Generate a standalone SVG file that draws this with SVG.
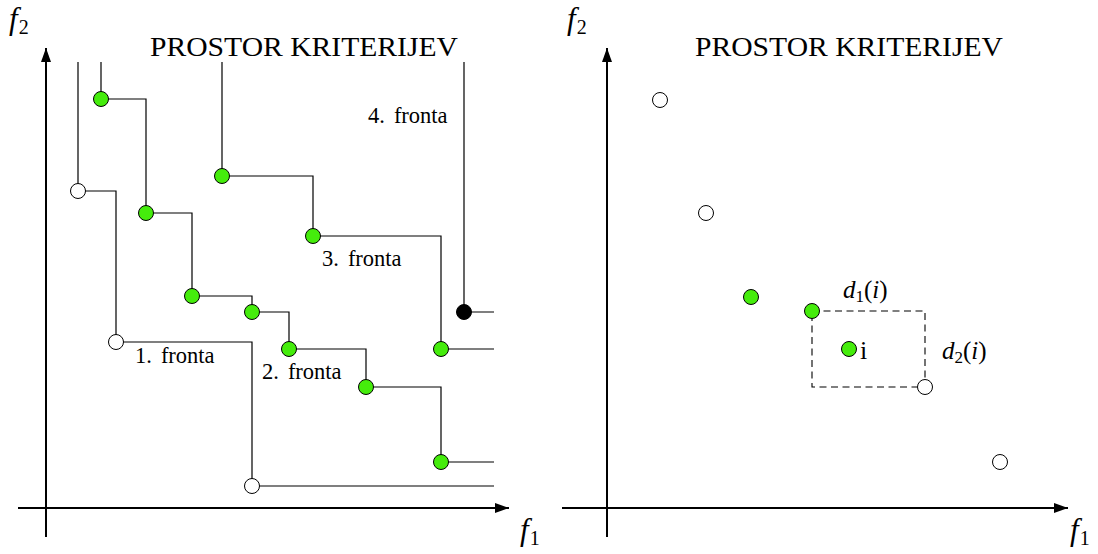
<svg xmlns="http://www.w3.org/2000/svg" width="1098" height="554" viewBox="0 0 1098 554">
<style>
text{font-family:"Liberation Serif","Times New Roman",serif;fill:#000}
.title{font-size:27px}
.lab{font-family:"Liberation Serif","DejaVu Serif",serif;font-size:22.5px}
.mi{font-style:italic;font-size:31px}
.sub{font-size:20px;font-style:normal}
.dm{font-style:italic;font-size:25px}
.ds{font-size:17px;font-style:normal}
.up{font-style:normal}
.front{fill:none;stroke:#000;stroke-width:1.2}
.axis{fill:none;stroke:#000;stroke-width:2}
.g{fill:#45ec0c;stroke:#000;stroke-width:1}
.w{fill:#fff;stroke:#000;stroke-width:1}
.b{fill:#000;stroke:#000;stroke-width:1}
.dash{fill:none;stroke:#000;stroke-width:1.1;stroke-dasharray:7 4.5}
</style>
<defs>
<marker id="arr" viewBox="0 0 14 10" refX="14" refY="5" markerWidth="14" markerHeight="10" markerUnits="userSpaceOnUse" orient="auto">
<path d="M0,0 L14,5 L0,10 Z" fill="#000"/>
</marker>
</defs>

<g id="axes">
<line class="axis" x1="46" y1="537" x2="46" y2="48" marker-end="url(#arr)"/>
<line class="axis" x1="18" y1="508" x2="509" y2="508" marker-end="url(#arr)"/>
<line class="axis" x1="607" y1="537" x2="607" y2="48" marker-end="url(#arr)"/>
<line class="axis" x1="562" y1="508" x2="1068" y2="508" marker-end="url(#arr)"/>
</g>

<g id="labels">
<text class="mi" x="9" y="29">f<tspan class="sub" dx="1" dy="5">2</tspan></text>
<text class="mi" x="520" y="540">f<tspan class="sub" dx="1" dy="5">1</tspan></text>
<text class="mi" x="567" y="29">f<tspan class="sub" dx="1" dy="5">2</tspan></text>
<text class="mi" x="1070" y="540">f<tspan class="sub" dx="1" dy="5">1</tspan></text>
<text class="title" x="150" y="56" textLength="308" lengthAdjust="spacingAndGlyphs">PROSTOR KRITERIJEV</text>
<text class="title" x="695" y="56" textLength="308" lengthAdjust="spacingAndGlyphs">PROSTOR KRITERIJEV</text>
<text class="lab" x="135" y="363">1.<tspan dx="9">fronta</tspan></text>
<text class="lab" x="262" y="379">2.<tspan dx="9">fronta</tspan></text>
<text class="lab" x="322" y="266">3.<tspan dx="9">fronta</tspan></text>
<text class="lab" x="368" y="123">4.<tspan dx="9">fronta</tspan></text>
<text class="dm" x="843" y="298">d<tspan class="ds" dy="4">1</tspan><tspan class="up" dy="-4">(</tspan>i<tspan class="up">)</tspan></text>
<text class="dm" x="942" y="359">d<tspan class="ds" dy="4">2</tspan><tspan class="up" dy="-4">(</tspan>i<tspan class="up">)</tspan></text>
<text x="860" y="359" style="font-size:26px">i</text>
</g>

<g id="connectors">
<path id="fronta1" class="front" d="M78,62 V191 H116 V342 H252 V486 H494"/>
<path id="fronta2" class="front" d="M101,62 V99 H146 V213 H192 V296 H252 V312 H289 V349 H366 V387 H441 V462 H494"/>
<path id="fronta3" class="front" d="M222,62 V176 H313 V236 H441 V349 H494"/>
<path id="fronta4" class="front" d="M464,62 V312 H494"/>
<path id="crowding-box" class="dash" d="M812,311 H925 V387 H812 Z"/>
</g>

<g id="n1a"><circle class="w" cx="78" cy="191" r="7.5"/></g>
<g id="n1b"><circle class="w" cx="116" cy="342" r="7.5"/></g>
<g id="n1c"><circle class="w" cx="252" cy="486" r="7.5"/></g>
<g id="n2a"><circle class="g" cx="101" cy="99" r="7.5"/></g>
<g id="n2b"><circle class="g" cx="146" cy="213" r="7.5"/></g>
<g id="n2c"><circle class="g" cx="192" cy="296" r="7.5"/></g>
<g id="n2d"><circle class="g" cx="252" cy="312" r="7.5"/></g>
<g id="n2e"><circle class="g" cx="289" cy="349" r="7.5"/></g>
<g id="n2f"><circle class="g" cx="366" cy="387" r="7.5"/></g>
<g id="n2g"><circle class="g" cx="441" cy="462" r="7.5"/></g>
<g id="n3a"><circle class="g" cx="222" cy="176" r="7.5"/></g>
<g id="n3b"><circle class="g" cx="313" cy="236" r="7.5"/></g>
<g id="n3c"><circle class="g" cx="441" cy="349" r="7.5"/></g>
<g id="n4a"><circle class="b" cx="464" cy="312" r="7.5"/></g>

<g id="r1"><circle class="w" cx="660" cy="100" r="7.5"/></g>
<g id="r2"><circle class="w" cx="706" cy="213" r="7.5"/></g>
<g id="r3"><circle class="g" cx="751" cy="297" r="7.5"/></g>
<g id="r4"><circle class="g" cx="812" cy="311" r="7.5"/></g>
<g id="ri"><circle class="g" cx="849" cy="349" r="7.5"/></g>
<g id="r5"><circle class="w" cx="925" cy="387" r="7.5"/></g>
<g id="r6"><circle class="w" cx="1000" cy="462" r="7.5"/></g>
</svg>
